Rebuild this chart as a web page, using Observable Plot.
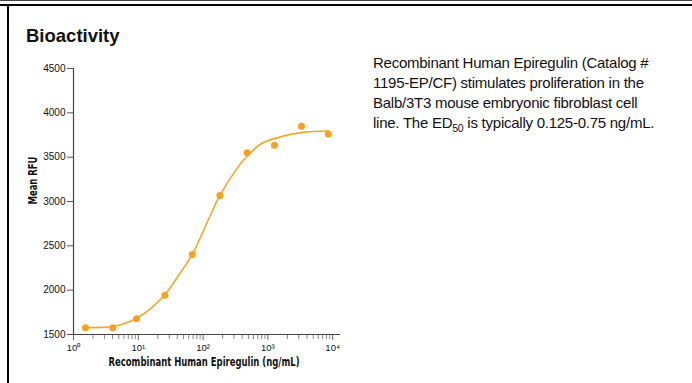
<!DOCTYPE html>
<html>
<head>
<meta charset="utf-8">
<script src="https://cdn.jsdelivr.net/npm/d3@7"></script>
<script src="https://cdn.jsdelivr.net/npm/@observablehq/plot@0.6"></script>
<style>
  html, body { margin: 0; padding: 0; background: #fff; overflow: hidden; width: 692px; height: 383px; }
  #wrap { position: relative; width: 692px; height: 383px; overflow: hidden; background: #fff; font-family: "Liberation Sans", Arial, sans-serif; }
  .bar { position: absolute; background: #000; }
  #title { position: absolute; left: 26px; top: 27px; font-size: 18.5px; line-height: 18px; font-weight: bold; color: #111; }
  #desc { position: absolute; left: 373px; top: 53px; font-size: 15px; line-height: 20px; color: #111; white-space: nowrap; letter-spacing: -0.25px; }
  #desc .sub { font-size: 10.5px; position: relative; top: 4px; line-height: 0; }
  #chart { position: absolute; left: 0; top: 0; }
  #edge { position: absolute; right: 0; top: 7px; width: 8px; height: 376px; background: #fff; z-index: 10; }
</style>
</head>
<body>
<div id="wrap">
  <div class="bar" style="left:0;top:0;width:692px;height:1px;background:#444"></div>
  <div class="bar" style="left:0;top:4px;width:692px;height:2px"></div>
  <div class="bar" style="left:7px;top:4px;width:2px;height:379px"></div>
  <div id="title">Bioactivity</div>
  <div id="desc">Recombinant Human Epiregulin (Catalog #<br>1195-EP/CF) stimulates proliferation in the<br>Balb/3T3 mouse embryonic fibroblast cell<br>line. The ED<span class="sub">50</span> is typically 0.125-0.75 ng/mL.</div>
  <div id="chart"></div>
  <div id="edge"></div>
</div>
<script>
// Measured points
const doseNgPerMl = [1.53, 4.05, 9.4, 25.7, 68, 182, 480, 1260, 3300, 8550];
const meanRfu = [1576, 1576, 1677, 1944, 2403, 3069, 3551, 3633, 3848, 3761];

// Fitted curve
const fitDose = [1.53, 2.6, 4.0, 6.1, 9.4, 15.5, 25.7, 41.8, 68, 116, 182, 318, 480, 770, 1240, 3200, 8550];
const fitRfu = [1576, 1580, 1587, 1624, 1684, 1793, 1948, 2166, 2403, 2768, 3069, 3351, 3513, 3646, 3709, 3777, 3795];

// Axis ticks
const xMajorTicks = [1, 10, 100, 1000, 10000];
const xTickLabels = ["10\u2070", "10\u00B9", "10\u00B2", "10\u00B3", "10\u2074"];
const xMinorTicks = [2,3,4,5,6,7,8,9, 20,30,40,50,60,70,80,90, 200,300,400,500,600,700,800,900, 2000,3000,4000,5000,6000,7000,8000,9000];
const yTicks = [1500, 2000, 2500, 3000, 3500, 4000, 4500];

const xLabel = "Recombinant Human Epiregulin (ng/mL)";
const yLabel = "Mean RFU";

const points = doseNgPerMl.map((d, i) => ({dose: d, rfu: meanRfu[i]}));
const fit = fitDose.map((d, i) => ({dose: d, rfu: fitRfu[i]}));

const labelFont = "'DejaVu Sans Condensed', 'Liberation Sans Narrow', sans-serif";

const chart = Plot.plot({
  width: 360,
  height: 383,
  marginLeft: 73,
  marginRight: 20,
  marginTop: 68,
  marginBottom: 49,
  x: {type: "log", domain: [1, 13200]},
  y: {domain: [1500, 4500]},
  style: {fontFamily: "'Liberation Sans', Arial, sans-serif", background: "transparent", color: "#111"},
  marks: [
    Plot.axisY({ticks: yTicks, tickSize: 6, tickPadding: 2, fontSize: 10, stroke: "#555", fill: "#111", label: null, tickFormat: d => String(d)}),
    Plot.axisX({ticks: xMinorTicks, tickSize: 5, tickFormat: () => "", stroke: "#888", label: null}),
    Plot.axisX({ticks: xMajorTicks, tickSize: 6, tickPadding: 4, fontSize: 9.5, stroke: "#666", fill: "#111", label: null,
      tickFormat: d => xTickLabels[xMajorTicks.indexOf(d)]}),
    Plot.ruleY([1500], {stroke: "#444", strokeWidth: 1.2}),
    Plot.ruleX([1], {stroke: "#444", strokeWidth: 1.2}),
    Plot.line(fit, {x: "dose", y: "rfu", curve: "catmull-rom", stroke: "#F6A629", strokeWidth: 1.6}),
    Plot.dot(points, {x: "dose", y: "rfu", r: 3.5, fill: "#F7A21E", stroke: "none"}),
    Plot.text([yLabel], {frameAnchor: "left", dx: -40, dy: 3, rotate: -90, fontSize: 12, fontWeight: "bold", fontFamily: labelFont, fill: "#111", className: "ylab"}),
    Plot.text([xLabel], {frameAnchor: "bottom", dx: -3, dy: 31, fontSize: 11.5, fontWeight: "bold", fontFamily: labelFont, fill: "#111", className: "xlab"})
  ]
});
document.getElementById("chart").appendChild(chart);
// squeeze the axis titles to the condensed width seen in the reference
chart.querySelectorAll(".xlab text").forEach(t => { t.setAttribute("textLength", "191"); t.setAttribute("lengthAdjust", "spacingAndGlyphs"); });
chart.querySelectorAll(".ylab text").forEach(t => { t.setAttribute("textLength", "48"); t.setAttribute("lengthAdjust", "spacingAndGlyphs"); });
</script>
</body>
</html>
